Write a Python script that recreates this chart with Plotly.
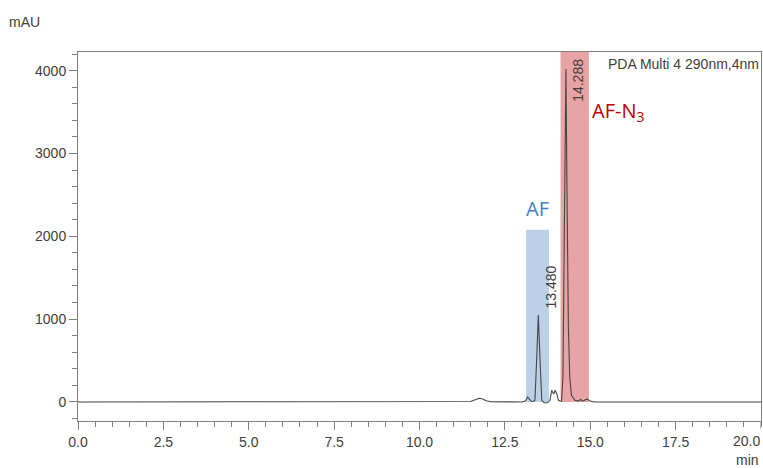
import plotly.graph_objects as go

# Chromatogram (min, mAU)
time_min = [0.0, 11.3, 11.5, 11.65, 11.75, 11.85, 11.95, 12.1, 12.3, 13.0, 13.1,
            13.17, 13.22, 13.28, 13.33, 13.38, 13.43, 13.48, 13.53, 13.58, 13.65,
            13.75, 13.82, 13.87, 13.93, 13.97, 14.02, 14.07, 14.12, 14.16, 14.2,
            14.25, 14.288, 14.32, 14.36, 14.4, 14.45, 14.55, 14.65, 14.72, 14.78,
            14.85, 14.92, 14.98, 15.1, 15.3, 20.0]
signal_mau = [0, 0, 5, 30, 45, 35, 15, 2, 0, 0, 10,
              60, 30, 8, 5, 20, 500, 1050, 500, 20, -10,
              -10, 20, 140, 95, 140, 100, 20, 8, 10, 300,
              2500, 4020, 2500, 900, 300, 80, 20, 10, 30, 10,
              25, 35, 15, 0, 0, 0]

# Highlight bands (min range, mAU top)
af_band = [13.12, 13.79, 2080]
afn3_band = [14.13, 14.96, 4225]

peak_labels = ["13.480", "14.288"]
peak_label_pos = [[13.84, 1390], [14.62, 3880]]

x_ticks = [0, 2.5, 5, 7.5, 10, 12.5, 15, 17.5]
x_tick_text = ["0.0", "2.5", "5.0", "7.5", "10.0", "12.5", "15.0", "17.5"]
y_ticks = [0, 1000, 2000, 3000, 4000]

font_fam = "Liberation Sans, Arial, sans-serif"
txt_col = "#404040"
axis_col = "#808080"

fig = go.Figure()
fig.add_trace(go.Scatter(x=time_min, y=signal_mau, mode="lines",
                         line=dict(color="#454545", width=1.1),
                         hoverinfo="x+y", showlegend=False))

fig.add_shape(type="rect", xref="x", yref="y", x0=af_band[0], x1=af_band[1],
              y0=0, y1=af_band[2], fillcolor="#BCD0E8", line_width=0,
              layer="below")
fig.add_shape(type="rect", xref="x", yref="y", x0=afn3_band[0], x1=afn3_band[1],
              y0=0, y1=afn3_band[2], fillcolor="#E8A3A5", line_width=0,
              layer="below")
# major tick at 20.0 (label drawn separately so it stays inside the canvas)
fig.add_shape(type="line", xref="x", yref="paper", x0=20, x1=20, y0=0, y1=0,
              line=dict(color=axis_col, width=1), ysizemode="pixel", yanchor=0)
fig.update_shapes(selector=dict(type="line"), y0=-8, y1=0)

for lab, (px, py) in zip(peak_labels, peak_label_pos):
    fig.add_annotation(x=px, y=py, xref="x", yref="y", text=lab, textangle=-90,
                       showarrow=False, font=dict(family=font_fam, size=14, color=txt_col),
                       xanchor="center", yanchor="middle")

fig.add_annotation(x=13.45, y=2330, xref="x", yref="y", text="AF", showarrow=False,
                   font=dict(family="Open Sans, sans-serif", size=20, color="#4A7EBB"))
fig.add_annotation(x=14.98, y=3505, xref="x", yref="y", xanchor="left",
                   text="AF-N<sub>3</sub>", showarrow=False,
                   font=dict(family="Open Sans, sans-serif", size=20, color="#C00000"))
fig.add_annotation(x=1, y=1, xref="paper", yref="paper", xanchor="right", yanchor="top",
                   yshift=-2, text="PDA Multi 4 290nm,4nm", showarrow=False,
                   font=dict(family=font_fam, size=14, color=txt_col))
fig.add_annotation(x=20, y=0, xref="x", yref="paper", xanchor="right", yanchor="top",
                   yshift=-10, xshift=1, text="20.0", showarrow=False,
                   font=dict(family=font_fam, size=14, color=txt_col))
fig.add_annotation(x=1, y=0, xref="paper", yref="paper", xanchor="right", yanchor="top",
                   yshift=-29, text="min", showarrow=False,
                   font=dict(family=font_fam, size=14, color=txt_col))
fig.add_annotation(x=0, y=1, xref="paper", yref="paper", xanchor="right", yanchor="bottom",
                   xshift=-36, yshift=20, text="mAU", showarrow=False,
                   font=dict(family=font_fam, size=14, color=txt_col))

fig.update_xaxes(range=[0, 20], tickvals=x_ticks, ticktext=x_tick_text,
                 ticks="outside", ticklen=8, tickcolor=axis_col,
                 showline=True, linecolor=axis_col, linewidth=1, mirror=True,
                 showgrid=False, zeroline=False,
                 minor=dict(dtick=0.5, ticks="outside", ticklen=5, tickcolor=axis_col),
                 tickfont=dict(family=font_fam, size=14, color=txt_col))
fig.update_yaxes(range=[-230, 4225], tickvals=y_ticks,
                 ticks="outside", ticklen=8, tickcolor=axis_col,
                 showline=True, linecolor=axis_col, linewidth=1, mirror=True,
                 showgrid=False, zeroline=False,
                 minor=dict(dtick=200, ticks="outside", ticklen=5, tickcolor=axis_col),
                 tickfont=dict(family=font_fam, size=14, color=txt_col))

fig.update_layout(width=763, height=468, margin=dict(l=78, r=2, t=52, b=47),
                  plot_bgcolor="white", paper_bgcolor="white", showlegend=False)

fig.write_html("out.html", config={"displayModeBar": False},
               post_script="document.body.style.margin='0';document.body.style.padding='0';")
